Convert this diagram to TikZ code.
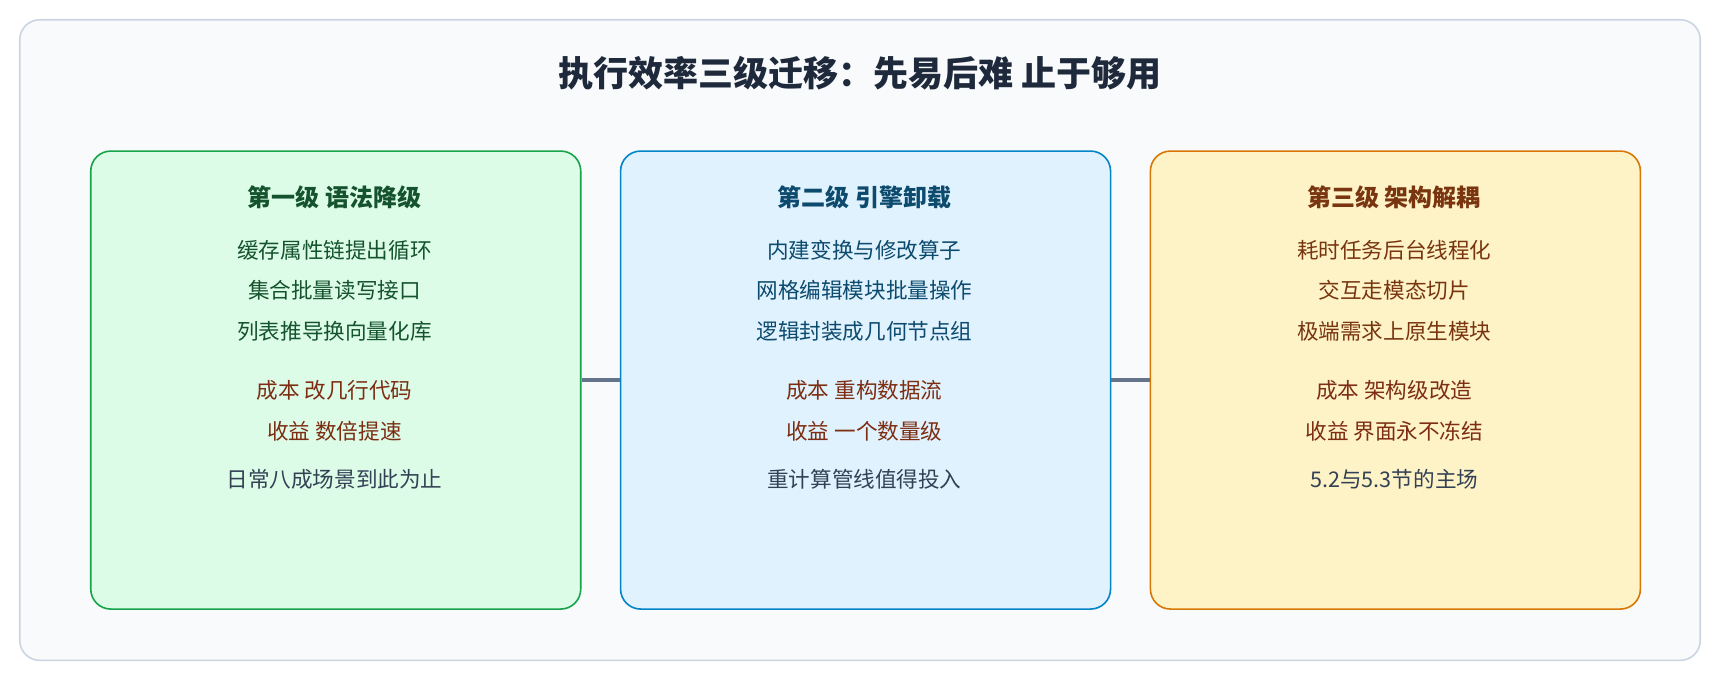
\documentclass[tikz,border=0pt]{standalone}
\usepackage{fontspec}
\setmainfont{Noto Sans CJK SC}
\usetikzlibrary{positioning}
\definecolor{frameFill}{HTML}{F8FAFC}
\definecolor{frameLine}{HTML}{CBD5E1}
\definecolor{titleInk}{HTML}{1E293B}
\definecolor{greenFill}{HTML}{DCFCE7}
\definecolor{greenLine}{HTML}{16A34A}
\definecolor{greenInk}{HTML}{14532D}
\definecolor{blueFill}{HTML}{E0F2FE}
\definecolor{blueLine}{HTML}{0284C7}
\definecolor{blueInk}{HTML}{0C4A6E}
\definecolor{amberFill}{HTML}{FEF3C7}
\definecolor{amberLine}{HTML}{D97706}
\definecolor{amberInk}{HTML}{78350F}
\definecolor{costInk}{HTML}{7C2D12}
\definecolor{noteInk}{HTML}{334155}
\definecolor{linkLine}{HTML}{64748B}
\begin{document}
\begin{tikzpicture}
    [
        x=0.5485pt, y=-0.5485pt,
        stage_box/.style={draw, rounded corners=10pt, line width=0.8pt, minimum width=245pt, minimum height=229pt, anchor=north west},
        stage_head/.style={font=\fontsize{12}{14}\selectfont\bfseries},
        item_text/.style={font=\fontsize{10.8}{13}\selectfont},
    ]
        \useasboundingbox (0,0) rectangle (1568,620);
        \draw[frameLine, fill=frameFill, rounded corners=10pt, line width=0.8pt] (18,18) rectangle (1550,602);
        \node[font=\fontsize{17.5}{21}\selectfont\bfseries, text=titleInk] (title) at (784,67) {执行效率三级迁移：先易后难\ 止于够用};

        % the three stages
        \node[stage_box, draw=greenLine, fill=greenFill] (s1) at (82,137) {};
        \node[stage_box, draw=blueLine, fill=blueFill] (s2) at (565,137) {};
        \node[stage_box, draw=amberLine, fill=amberFill] (s3) at (1048,137) {};

        \draw[linkLine, line width=2.2pt] (s1.east) -- (s2.west);
        \draw[linkLine, line width=2.2pt] (s2.east) -- (s3.west);

        \foreach \s/\x/\ink/\h/\a/\b/\c/\d/\e/\f in {
            s1/305/greenInk/第一级\ 语法降级/缓存属性链提出循环/集合批量读写接口/列表推导换向量化库/成本\ 改几行代码/收益\ 数倍提速/日常八成场景到此为止,
            s2/788/blueInk/第二级\ 引擎卸载/内建变换与修改算子/网格编辑模块批量操作/逻辑封装成几何节点组/成本\ 重构数据流/收益\ 一个数量级/重计算管线值得投入,
            s3/1271/amberInk/第三级\ 架构解耦/耗时任务后台线程化/交互走模态切片/极端需求上原生模块/成本\ 架构级改造/收益\ 界面永不冻结/5.2与5.3节的主场}
        {
            \node[stage_head, text=\ink] (\s-head) at (\x,180) {\h};
            \node[item_text, text=\ink] (\s-a) at (\x,228) {\a};
            \node[item_text, text=\ink] (\s-b) at (\x,265) {\b};
            \node[item_text, text=\ink] (\s-c) at (\x,302) {\c};
            \node[item_text, text=costInk] (\s-d) at (\x,356) {\d};
            \node[item_text, text=costInk] (\s-e) at (\x,393) {\e};
            \node[item_text, text=noteInk] (\s-f) at (\x,437) {\f};
        }
\end{tikzpicture}
\end{document}
